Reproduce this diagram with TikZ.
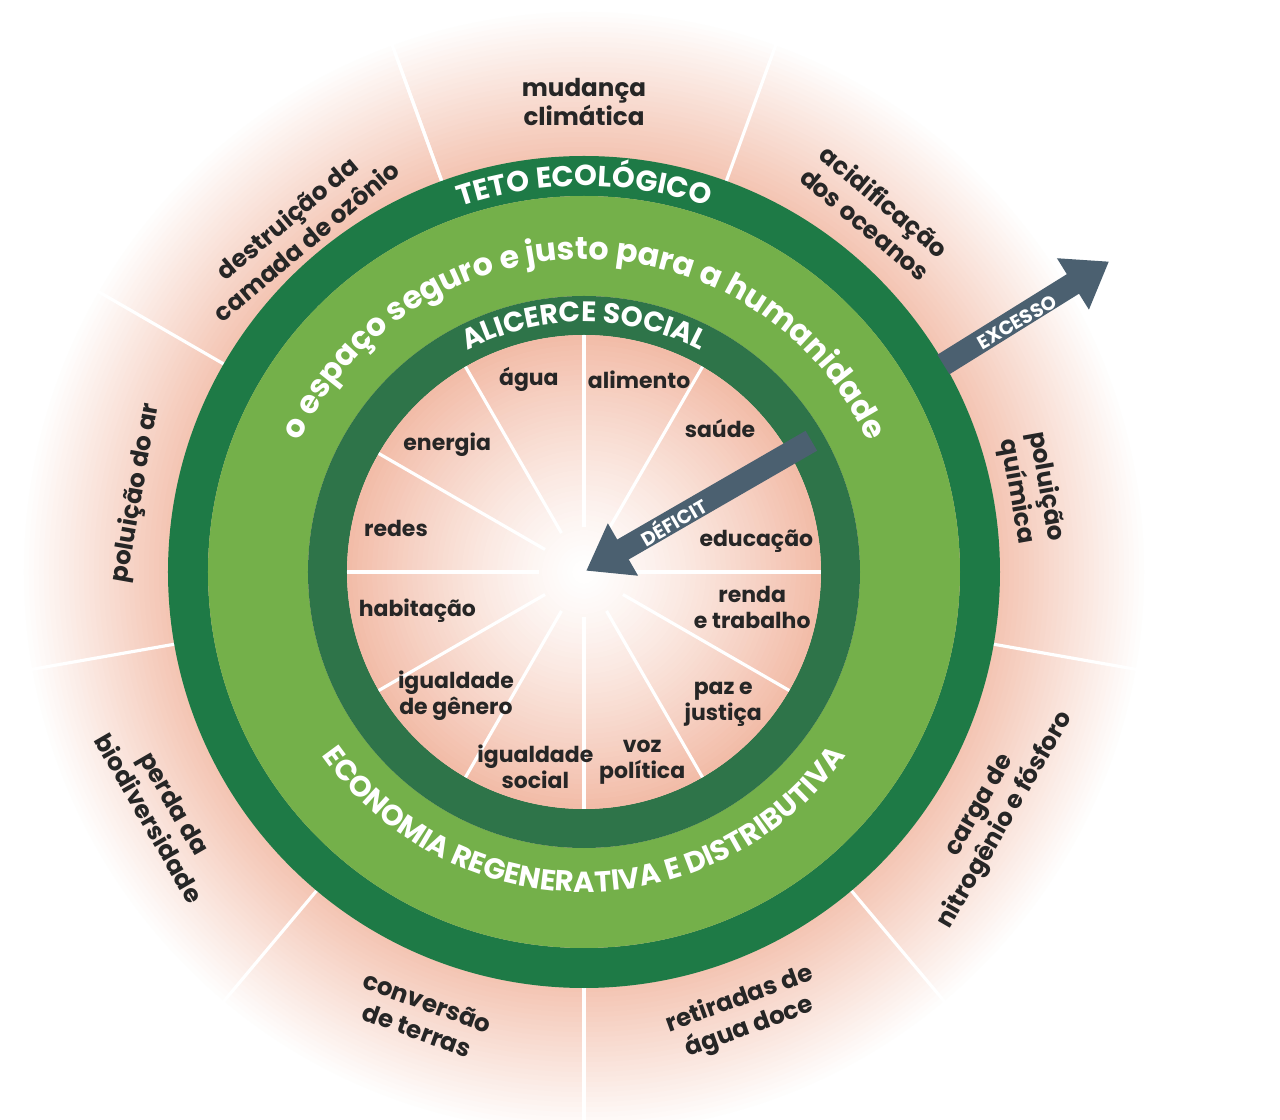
\documentclass[tikz,border=0pt]{standalone}
\usepackage{fontspec}
\setmainfont{Poppins}
\usetikzlibrary{arrows.meta, decorations.text}

\definecolor{petal}{RGB}{242,188,168}
\definecolor{ceiling}{RGB}{30,122,70}
\definecolor{safezone}{RGB}{116,176,74}
\definecolor{foundation}{RGB}{46,116,73}
\definecolor{gap}{RGB}{75,96,112}

\begin{document}
\begin{tikzpicture}[line join = round, every node/.style = {align = center, font = \bfseries\fontsize{12}{14}\selectfont, text = black!85}, boundary/.style = {font = \bfseries\fontsize{14}{17}\selectfont}, need/.style = {font = \bfseries\fontsize{12.5}{15}\selectfont}, divider/.style = {white, line width = 1.8pt}, ringtext/.style 2 args = {decorate, decoration = {text along path, text align = center, text = {|\color{white}\bfseries\fontsize{#1}{#1}\selectfont|#2}}}, gaparrow/.style = {gap, line width = 0.46cm, -{Triangle[width = 1.15cm, length = 0.85cm]}}, gaplabel/.style = {text = white, font = \bfseries\fontsize{11}{13}\selectfont, rotate = 30}]
    \useasboundingbox (-11.68,-10.96) rectangle (13.92,11.44);
    % pink halo outside the doughnut
    \foreach \r in {11.6,11.5,...,8.3} {
        \pgfmathsetmacro\p{min(90,max(0,90*(11.3-\r)/3.0))}
        \fill[petal!\p!white] (0,0) circle (\r);
    }
    \foreach \a in {110,70,...,-250}
        \draw[divider] (\a:8.3) -- (\a:11.6);
    % the rings
    \fill[ceiling, even odd rule] (0,0) circle (8.32) circle (7.52);
    \fill[safezone, even odd rule] (0,0) circle (7.52) circle (5.52);
    \fill[foundation, even odd rule] (0,0) circle (5.52) circle (4.74);
    % inner hole
    \foreach \r in {4.74,4.64,...,0.05} {
        \pgfmathsetmacro\p{100*(\r/4.74)^1.3}
        \fill[petal!\p!white] (0,0) circle (\r);
    }
    \foreach \a in {0,30,...,330}
        \draw[divider] (\a:0.9) -- (\a:4.74);
    % ring texts
    \path[ringtext = {16.5}{TETO ECOLÓGICO}] (150:7.72) arc (150:30:7.72);
    \path[ringtext = {18}{o espaço seguro e justo para a humanidade}] (175:6.25) arc (175:5:6.25);
    \path[ringtext = {16}{ALICERCE SOCIAL}] (150:5.0) arc (150:30:5.0);
    \path[ringtext = {16.5}{ECONOMIA REGENERATIVA E DISTRIBUTIVA}] (200:6.4) arc (200:340:6.4);
    % ecological ceiling
    \node[boundary] (climate) at (90:9.4) {mudança\\climática};
    \node[boundary, rotate = -40] (acid) at (51:9.25) {acidificação\\dos oceanos};
    \node[boundary, rotate = -80] (chem) at (10.5:9.1) {poluição\\química};
    \node[boundary, rotate = 60] (nitro) at (-30.5:9.5) {carga de\\nitrogênio e fósforo};
    \node[boundary, rotate = 20] (fresh) at (-70:9.4) {retiradas de\\água doce};
    \node[boundary, rotate = -20] (land) at (-110:9.45) {conversão\\de terras};
    \node[boundary, rotate = -60] (bio) at (-150.5:9.7) {perda da\\biodiversidade};
    \node[boundary, rotate = 80] (air) at (170:9.1) {poluição do ar};
    \node[boundary, rotate = 40] (ozone) at (130:8.95) {destruição da\\camada de ozônio};
    % social foundation
    \node[need] (water) at (106:4.0) {água};
    \node[need] (food) at (74:4.0) {alimento};
    \node[need] (health) at (46.6:3.96) {saúde};
    \node[need] (energy) at (137:3.74) {energia};
    \node[need] (edu) at (10:3.5) {educação};
    \node[need] (net) at (167:3.86) {redes};
    \node[need] (income) at (-12:3.44) {renda\\e trabalho};
    \node[need] (housing) at (193:3.42) {habitação};
    \node[need] (gender) at (224:3.56) {igualdade\\de gênero};
    \node[need] (peace) at (-43.5:3.84) {paz e\\justiça};
    \node[need] (equity) at (256:4.02) {igualdade\\social};
    \node[need] (voice) at (-73:3.98) {voz\\política};
    % shortfall and overshoot
    \coordinate (short tail) at (30:5.25);
    \coordinate (short tip) at (30:0.05);
    \coordinate (over tail) at (30:8.3);
    \coordinate (over tip) at (30.6:12.2);
    \draw[gaparrow] (short tail) -- (short tip);
    \draw[gaparrow] (over tail) -- (over tip);
    \node[gaplabel] (shortfall) at (30:2.05) {DÉFICIT};
    \node[gaplabel] (overshoot) at (30:10.0) {EXCESSO};
\end{tikzpicture}
\end{document}
